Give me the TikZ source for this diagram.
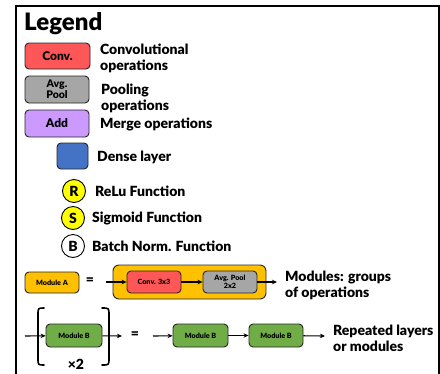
\documentclass[tikz,border=0pt]{standalone}
\usepackage{fontspec}
\setmainfont{Lato}[BoldFont={Lato Black}]
\usetikzlibrary{arrows.meta}
\definecolor{cred}{RGB}{255,87,87}
\definecolor{cgray}{RGB}{166,166,166}
\definecolor{cpurple}{RGB}{204,153,255}
\definecolor{cblue}{RGB}{68,114,196}
\definecolor{cyellow}{RGB}{255,255,0}
\definecolor{corange}{RGB}{255,192,0}
\definecolor{cgreen}{RGB}{112,173,71}
\begin{document}
\begin{tikzpicture}[x=1pt,y=-1pt,
  box/.style={draw=black!85, line width=0.9pt, rounded corners=4pt, inner sep=0pt, align=center, font=\bfseries\fontsize{12}{12.5}\selectfont},
  smallbox/.style={box, font=\bfseries\fontsize{7.2}{8.2}\selectfont},
  lbl/.style={anchor=west, align=left, inner sep=0pt, font=\bfseries\fontsize{14}{16}\selectfont},
  circ/.style={draw=black, line width=0.9pt, circle, minimum size=23pt, inner sep=0pt, font=\bfseries\fontsize{14}{14}\selectfont},
  arr/.style={-{Stealth[length=5pt,width=4.5pt]}, line width=1.1pt},
  brk/.style={line width=1.6pt, line cap=round},
  eqs/.style={inner sep=0pt, font=\bfseries\fontsize{14}{14}\selectfont}
]
\clip (0,0) rectangle (440,373);
\fill[white] (0,0) rectangle (440,373);
\draw[line width=2pt] (16,6) rectangle (439,400);

\node[anchor=base west, inner sep=0pt, font=\bfseries\fontsize{24}{24}\selectfont] (title) at (24,30) {Legend};

\node[box, fill=cred, minimum width=65pt, minimum height=26pt] (conv) at (57.5,56) {Conv.};
\node[lbl] (convl) at (100,58) {Convolutional\\operations};
\node[box, fill=cgray, minimum width=64pt, minimum height=27pt, font=\bfseries\fontsize{10.5}{11}\selectfont] (pool) at (57,89.5) {Avg.\\Pool};
\node[lbl] (pooll) at (101,98) {Pooling\\operations};
\node[box, fill=cpurple, minimum width=64pt, minimum height=27pt] (add) at (57,123.5) {Add};
\node[lbl] (addl) at (100,124.5) {Merge operations};
\node[box, fill=cblue, minimum width=31pt, minimum height=26pt] (dense) at (72.5,156) {};
\node[lbl] (densel) at (97,157) {Dense layer};

\node[circ, fill=cyellow] (r) at (74,191) {R};
\node[lbl] (rl) at (95,191.5) {ReLu Function};
\node[circ, fill=cyellow] (s) at (73,218) {S};
\node[lbl] (sl) at (92,218.5) {Sigmoid Function};
\node[circ, fill=white] (b) at (73,246) {B};
\node[lbl] (bl) at (92,246.5) {Batch Norm. Function};

% Module A row
\node[smallbox, fill=corange, minimum width=54pt, minimum height=21pt] (ma) at (52,282.5) {Module A};
\node[eqs] (eqa) at (90,281.5) {=};
\node[box, fill=corange, rounded corners=6pt, minimum width=153pt, minimum height=34pt] (grp) at (189.5,282) {};
\node[smallbox, fill=cred, minimum width=54pt, minimum height=22pt] (c33) at (154,282) {Conv. 3x3};
\node[smallbox, fill=cgray, minimum width=54pt, minimum height=22pt] (p22) at (230,282) {Avg. Pool\\2x2};
\coordinate (ain) at (106,282);
\coordinate (aout) at (277,282);
\draw[arr] (ain) -- (c33);
\draw[arr] (c33) -- (p22);
\draw[arr] (p22) -- (aout);
\node[lbl] (modl) at (285,285.5) {Modules: groups\\of operations};

% Module B row
\coordinate (bin) at (25,336);
\node[smallbox, fill=cgreen, minimum width=56pt, minimum height=23pt] (mb1) at (74,335.5) {Module B};
\coordinate (bout) at (122,336);
\draw[arr] (bin) -- (mb1);
\draw[arr] (mb1) -- (bout);
\draw[brk] (44,308) .. controls (38,308) .. (38,315) -- (38,358) .. controls (38,365) .. (44,365);
\draw[brk] (102,308) .. controls (109,308) .. (109,315) -- (109,358) .. controls (109,365) .. (102,365);
\node[inner sep=0pt, font=\bfseries\fontsize{14}{14}\selectfont] (x2) at (76,364) {×2};
\node[eqs] (eqb) at (135,335.5) {=};
\coordinate (cin) at (153,336);
\node[smallbox, fill=cgreen, minimum width=55pt, minimum height=23pt] (mb2) at (200.5,335.5) {Module B};
\node[smallbox, fill=cgreen, minimum width=54pt, minimum height=23pt] (mb3) at (276,335.5) {Module B};
\coordinate (cout) at (325,336);
\draw[arr] (cin) -- (mb2);
\draw[arr] (mb2) -- (mb3);
\draw[arr] (mb3) -- (cout);
\node[lbl] (repl) at (333,338.5) {Repeated layers\\or modules};
\end{tikzpicture}
\end{document}
